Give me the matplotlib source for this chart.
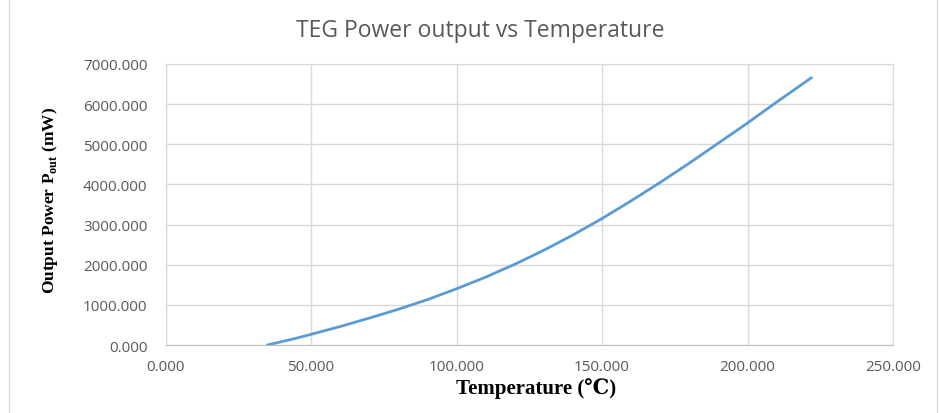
import matplotlib
matplotlib.use("Agg")
import matplotlib.pyplot as plt
from matplotlib.lines import Line2D

# temperature (C) and TEG power output (mW)
temps = [35, 40, 45, 50, 60, 70, 80, 90, 100, 110, 120, 130, 140,
         150, 160, 170, 180, 190, 200, 210, 222]
power = [0, 85, 170, 265, 460, 670, 890, 1130, 1400, 1690, 2010, 2360, 2740,
         3150, 3590, 4050, 4530, 5030, 5530, 6050, 6660]

x_ticks = [0, 50, 100, 150, 200, 250]
y_ticks = [0, 1000, 2000, 3000, 4000, 5000, 6000, 7000]

plt.rcParams['mathtext.fontset'] = 'custom'
plt.rcParams['mathtext.bf'] = 'Liberation Serif:bold'
plt.rcParams['mathtext.rm'] = 'Liberation Serif:bold'

fig = plt.figure(figsize=(9.4, 4.14), dpi=100)
ax = fig.add_axes([165.5 / 940, 1 - 346 / 414, (893 - 165.5) / 940, (346 - 65) / 414])

ax.plot(temps, power, color='#5b9bd5', lw=2.0, solid_capstyle='round')

ax.set_xlim(0, 250)
ax.set_ylim(0, 7000)
ax.set_xticks(x_ticks)
ax.set_yticks(y_ticks)
ax.set_xticklabels(['%.3f' % v for v in x_ticks])
ax.set_yticklabels(['%.3f' % v for v in y_ticks])
ax.tick_params(length=0, labelsize=11, labelcolor='#595959')
ax.tick_params(axis='x', pad=10)
ax.tick_params(axis='y', pad=13)
for lab in ax.get_xticklabels() + ax.get_yticklabels():
    lab.set_family('Open Sans')

ax.grid(True, color='#d9d9d9', lw=1.0)
ax.set_axisbelow(True)
for side in ['top', 'right', 'left']:
    ax.spines[side].set_color('#d9d9d9')
ax.spines['bottom'].set_color('#bfbfbf')

fig.text(480 / 940, 1 - 31 / 414, 'TEG Power output vs Temperature',
         ha='center', va='center', fontsize=16.5, color='#595959', family='Open Sans')

fig.text(50 / 940, 1 - 200 / 414, r'Output Power P$_{\mathbf{out}}$ (mW)',
         rotation=90, ha='center', va='center', fontsize=12.5, fontweight='bold',
         family='Liberation Serif')
fig.text(536 / 940, 1 - 389 / 414, 'Temperature (\u2103)', ha='center', va='center',
         fontsize=15, fontweight='bold', family=['Liberation Serif', 'DejaVu Serif'])

# outer chart frame edges
fig.add_artist(Line2D([9 / 940, 9 / 940], [0, 1], transform=fig.transFigure,
                      color='#d9d9d9', lw=1))
fig.add_artist(Line2D([937 / 940, 937 / 940], [0, 1], transform=fig.transFigure,
                      color='#d9d9d9', lw=1))

fig.savefig('out.png', dpi=100)
